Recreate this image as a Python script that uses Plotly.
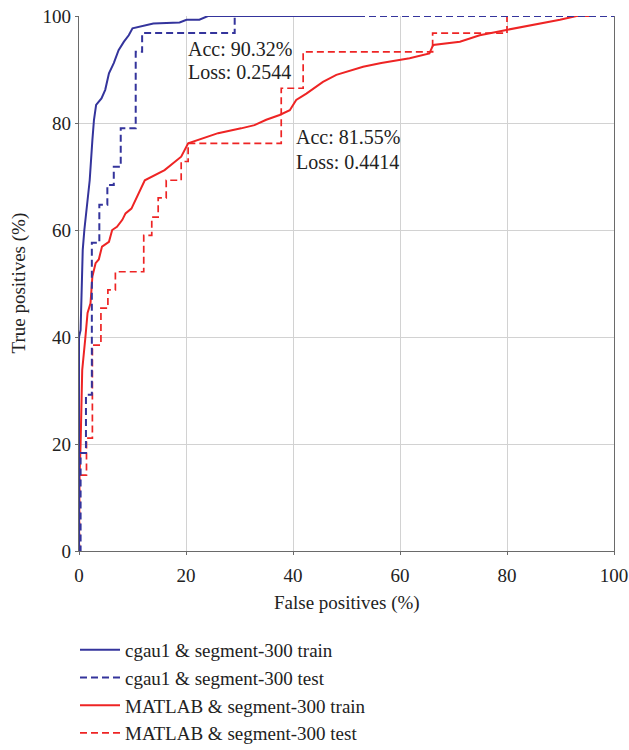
import plotly.graph_objects as go

# ---- data ----
blue_train_x = [0, 0, 0.3, 0.5, 0.7, 1.0, 1.3, 1.7, 2.0, 2.5, 2.8, 3.2, 4.2, 4.9, 5.6, 6.5, 7.4, 8.4, 9.3, 10.0, 11.8, 13.9, 18.8, 20.1, 22.5, 24.1, 53.0]
blue_train_y = [0, 40, 41.3, 49, 56.3, 60, 63, 65.6, 69.3, 76.8, 80.6, 83.4, 84.6, 86.2, 89.3, 91.2, 93.6, 95.2, 96.4, 97.7, 98.1, 98.6, 98.8, 99.3, 99.3, 100, 100]

blue_test_x = [0, 0.3, 1.3, 2.4, 3.8, 5.3, 6.5, 7.8, 10.6, 11.8, 29.1, 100]
blue_test_y = [0, 18.3, 29.2, 57.6, 64.7, 68.4, 71.8, 79.0, 93.3, 96.8, 100, 100]

red_train_x = [0, 0.1, 0.3, 0.5, 0.6, 1.2, 1.6, 2.15, 2.5, 3.1, 3.7, 4.3, 5.6, 6.2, 7.1, 8.1, 8.7, 9.8, 12.3, 16.0, 19.1, 20.4, 22.9, 26.0, 30.3, 32.8, 35.0, 37.5, 39.4, 40.6, 42.5, 45.6, 48.1, 53.1, 56.5, 61.8, 65.5, 66.2, 71.2, 74.9, 79.9, 84.9, 89.9, 93.0, 96.1]
red_train_y = [0, 13.9, 20, 30, 33.8, 40, 44.5, 46.3, 51.3, 53.8, 54.5, 56.9, 57.8, 60, 60.6, 61.9, 63.1, 64.0, 69.3, 71.2, 73.7, 76.2, 77.1, 78.1, 79.0, 79.6, 80.6, 81.5, 82.4, 84.3, 85.5, 87.7, 89.0, 90.5, 91.2, 92.1, 93.0, 94.6, 95.2, 96.4, 97.4, 98.3, 99.3, 100, 100]

red_test_x = [0, 0.1, 1.4, 2.5, 4.1, 5.4, 6.8, 12.1, 13.6, 14.8, 16.3, 19.1, 20.4, 37.8, 41.9, 66.1, 80.0, 100]
red_test_y = [0, 14.2, 21.1, 38.5, 45.4, 48.8, 52.2, 59.0, 62.4, 66.0, 69.3, 72.8, 76.2, 86.5, 93.3, 96.8, 100, 100]

series_names = [
    "cgau1 & segment-300 train",
    "cgau1 & segment-300 test",
    "MATLAB & segment-300 train",
    "MATLAB & segment-300 test",
]
ticks = [0, 20, 40, 60, 80, 100]
annot_cgau = ["Acc: 90.32%", "Loss: 0.2544"]
annot_matlab = ["Acc: 81.55%", "Loss: 0.4414"]
x_title = "False positives (%)"
y_title = "True positives (%)"

BLUE = "#34349c"
RED = "#ee2424"
FONT = "Liberation Serif"
TXT = "#222222"

fig = go.Figure()
# red drawn first (underneath), legend order kept via legendrank
fig.add_trace(go.Scatter(x=red_train_x, y=red_train_y, mode="lines", name=series_names[2],
                         line=dict(color=RED, width=2), legendgroup="c", legendrank=3))
fig.add_trace(go.Scatter(x=red_test_x, y=red_test_y, mode="lines", name=series_names[3],
                         line=dict(color=RED, width=1.7, dash="7px,4px", shape="hv"), legendgroup="d", legendrank=4))
fig.add_trace(go.Scatter(x=blue_train_x, y=blue_train_y, mode="lines", name=series_names[0],
                         line=dict(color=BLUE, width=2), legendgroup="a", legendrank=1))
fig.add_trace(go.Scatter(x=blue_test_x, y=blue_test_y, mode="lines", name=series_names[1],
                         line=dict(color=BLUE, width=2, dash="7px,4px", shape="hv"), legendgroup="b", legendrank=2))

for i, t in enumerate(annot_cgau):
    fig.add_annotation(x=20.0, y=[93.9, 89.6][i], text=t, showarrow=False,
                       xanchor="left", yanchor="middle", font=dict(family=FONT, size=20, color=TXT))
for i, t in enumerate(annot_matlab):
    fig.add_annotation(x=40.2, y=[77.4, 72.8][i], text=t, showarrow=False,
                       xanchor="left", yanchor="middle", font=dict(family=FONT, size=20, color=TXT))

# axis titles as annotations
fig.add_annotation(xref="paper", yref="paper", x=0.5, y=-0.097, text=x_title, showarrow=False,
                   xanchor="center", yanchor="middle", font=dict(family=FONT, size=19, color=TXT))
fig.add_annotation(xref="paper", yref="paper", x=-0.114, y=0.5, text=y_title, showarrow=False,
                   textangle=-90, xanchor="center", yanchor="middle", font=dict(family=FONT, size=19, color=TXT))

axis_common = dict(range=[0, 100], tickvals=ticks, ticktext=[str(t) for t in ticks],
                   showgrid=True, gridcolor="#d2d2d2", gridwidth=1, zeroline=False,
                   showline=True, linecolor="#6a6a6a", linewidth=1.2,
                   ticks="outside", ticklen=3, tickcolor="#6a6a6a",
                   ticklabeloverflow="allow",
                   tickfont=dict(family=FONT, size=19, color=TXT))

fig.update_xaxes(**axis_common, mirror=False, ticklabelstandoff=4)
fig.update_yaxes(**axis_common, mirror=True)

fig.update_layout(
    width=629, height=750,
    margin=dict(l=79, r=15, t=16, b=199, autoexpand=False),
    plot_bgcolor="white", paper_bgcolor="white",
    font=dict(family=FONT, size=19, color=TXT),
    showlegend=True,
    legend=dict(xref="container", yref="container", x=75 / 629, y=1 - 631 / 750,
                xanchor="left", yanchor="top", itemwidth=40, tracegroupgap=1,
                traceorder="normal",
                font=dict(family=FONT, size=19, color=TXT), bgcolor="rgba(0,0,0,0)"),
)

fig.write_html("out.html", config={"displayModeBar": False},
               post_script="document.body.style.margin='0px';")
